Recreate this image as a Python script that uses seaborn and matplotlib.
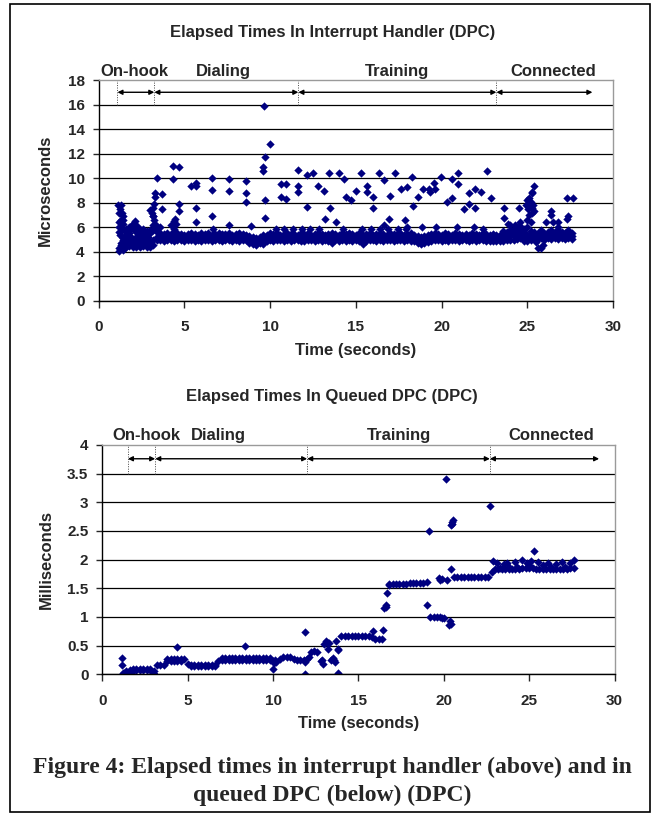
import matplotlib
matplotlib.use('Agg')
import matplotlib.pyplot as plt
from matplotlib.patches import Rectangle
from matplotlib.ticker import FuncFormatter
import pandas as pd
import seaborn as sns

# sample times (seconds), shared by both traces
t = [1.2, 1.4, 1.6, 1.8, 2.0, 2.2, 2.4, 2.6, 2.8, 3.0,
     3.2, 3.4, 3.6, 3.8, 4.0, 4.2, 4.4, 4.6, 4.8, 5.0,
     5.2, 5.4, 5.6, 5.8, 6.0, 6.2, 6.4, 6.6, 6.8, 7.0,
     7.2, 7.4, 7.6, 7.8, 8.0, 8.2, 8.4, 8.6, 8.8, 9.0,
     9.2, 9.4, 9.6, 9.8, 10.0, 10.2, 10.4, 10.6, 10.8, 11.0,
     11.2, 11.4, 11.6, 11.8, 12.0, 12.2, 12.4, 12.6, 12.8, 13.0,
     13.2, 13.4, 13.6, 13.8, 14.0, 14.2, 14.4, 14.6, 14.8, 15.0,
     15.2, 15.4, 15.6, 15.8, 16.0, 16.2, 16.4, 16.6, 16.8, 17.0,
     17.2, 17.4, 17.6, 17.8, 18.0, 18.2, 18.4, 18.6, 18.8, 19.0,
     19.2, 19.4, 19.6, 19.8, 20.0, 20.2, 20.4, 20.6, 20.8, 21.0,
     21.2, 21.4, 21.6, 21.8, 22.0, 22.2, 22.4, 22.6, 22.8, 23.0,
     23.2, 23.4, 23.6, 23.8, 24.0, 24.2, 24.4, 24.6, 24.8, 25.0,
     25.2, 25.4, 25.6, 25.8, 26.0, 26.2, 26.4, 26.6, 26.8, 27.0,
     27.2, 27.4, 27.6]

# interrupt handler (microseconds): the dense band, read as four rows
mu_lo = [4.3, 4.2, 4.4, 4.5, 4.4, 4.4, 4.4, 4.5, 4.4, 4.4,
         4.6, 5.0, 4.95, 4.9, 5.0, 4.95, 4.9, 5.0, 4.95, 4.9,
         5.0, 4.95, 4.9, 5.0, 4.85, 4.95, 5.0, 4.9, 4.95, 5.0,
         4.9, 4.95, 5.0, 4.9, 4.95, 4.9, 5.0, 4.95, 4.75, 4.65,
         4.6, 4.7, 4.65, 4.9, 5.0, 4.9, 4.95, 5.0, 4.9, 4.95,
         4.9, 5.0, 4.95, 4.9, 4.85, 4.95, 5.0, 4.9, 4.95, 4.9,
         5.0, 4.9, 4.75, 4.95, 4.9, 5.0, 4.9, 4.95, 4.9, 5.0,
         4.85, 4.65, 4.9, 4.95, 5.0, 4.9, 4.95, 4.9, 5.0, 4.95,
         4.9, 4.95, 5.0, 4.9, 4.95, 4.9, 4.85, 4.7, 4.65, 4.75,
         4.8, 4.9, 4.95, 5.0, 4.9, 4.95, 4.9, 5.0, 4.95, 4.9,
         4.95, 5.0, 4.9, 4.95, 4.9, 5.0, 4.95, 4.9, 4.85, 4.9,
         4.85, 4.85, 4.9, 4.95, 5.0, 5.0, 5.05, 5.1, 4.9, 4.85,
         5.0, 5.1, 5.05, 5.1, 5.0, 5.1, 5.05, 5.1, 5.05, 5.1,
         5.05, 5.1, 5.05]
mu_mid = [5.6, 5.0, 4.9, 4.9, 4.8, 4.9, 4.8, 4.8, 4.9, 4.9,
          5.0, 5.25, 5.2, 5.15, 5.2, 5.25, 5.2, 5.2, 5.15, 5.2,
          5.2, 5.15, 5.2, 5.25, 5.2, 5.15, 5.2, 5.2, 5.25, 5.2,
          5.15, 5.2, 5.25, 5.2, 5.15, 5.2, 5.2, 5.15, 5.0, 4.9,
          4.85, 4.9, 5.0, 5.15, 5.2, 5.2, 5.15, 5.25, 5.2, 5.2,
          5.15, 5.2, 5.2, 5.15, 5.2, 5.25, 5.2, 5.15, 5.2, 5.2,
          5.25, 5.2, 5.15, 5.2, 5.2, 5.25, 5.15, 5.2, 5.2, 5.15,
          5.2, 5.0, 5.2, 5.2, 5.15, 5.2, 5.25, 5.2, 5.15, 5.2,
          5.2, 5.2, 5.25, 5.15, 5.2, 5.2, 5.15, 5.0, 4.9, 5.0,
          5.1, 5.2, 5.15, 5.2, 5.25, 5.2, 5.2, 5.15, 5.2, 5.25,
          5.2, 5.2, 5.15, 5.2, 5.2, 5.25, 5.2, 5.15, 5.1, 5.15,
          5.1, 5.15, 5.2, 5.25, 5.3, 5.35, 5.4, 5.45, 5.3, 5.1,
          5.3, 5.35, 5.3, 5.35, 5.3, 5.35, 5.3, 5.35, 5.3, 5.35,
          5.3, 5.35, 5.3]
mu_hi = [6.4, 5.9, 5.4, 5.5, 5.9, 5.6, 5.4, 5.3, 5.5, 5.6,
         5.8, 5.6, 5.5, 5.45, 5.5, 5.45, 5.6, 5.5, 5.45, 5.4,
         5.45, 5.5, 5.45, 5.4, 5.5, 5.45, 5.5, 5.4, 5.45, 5.5,
         5.45, 5.45, 5.5, 5.4, 5.45, 5.5, 5.45, 5.4, 5.3, 5.2,
         5.15, 5.2, 5.35, 5.4, 5.5, 5.45, 5.5, 5.4, 5.45, 5.5,
         5.45, 5.45, 5.4, 5.5, 5.45, 5.5, 5.4, 5.45, 5.5, 5.45,
         5.4, 5.45, 5.5, 5.45, 5.4, 5.5, 5.45, 5.5, 5.45, 5.4,
         5.5, 5.35, 5.45, 5.5, 5.4, 5.45, 5.5, 5.45, 5.4, 5.5,
         5.45, 5.45, 5.5, 5.4, 5.45, 5.5, 5.4, 5.3, 5.2, 5.3,
         5.4, 5.45, 5.5, 5.45, 5.4, 5.5, 5.45, 5.4, 5.5, 5.45,
         5.4, 5.45, 5.4, 5.5, 5.45, 5.4, 5.5, 5.45, 5.4, 5.45,
         5.35, 5.4, 5.45, 5.5, 5.6, 5.7, 5.75, 5.8, 5.6, 5.4,
         5.55, 5.6, 5.55, 5.6, 5.55, 5.6, 5.55, 5.6, 5.55, 5.6,
         5.55, 5.6, 5.5]
mu_top = [7.2, 6.6, 5.9, 6.0, 6.3, 6.1, 5.9, 5.7, 5.6, 5.8,
          6.9, 5.85, 6.0, None, None, 6.2, 5.9, None, None, None,
          None, None, None, None, None, None, None, None, None, None,
          None, None, None, None, None, None, None, None, None, None,
          None, None, None, None, None, None, None, None, None, None,
          None, None, None, None, None, None, None, None, None, None,
          None, None, None, None, None, None, None, None, None, None,
          None, None, None, None, None, None, None, None, None, None,
          None, None, None, None, None, None, None, None, None, None,
          None, None, None, None, None, None, None, None, None, None,
          None, None, None, None, None, None, None, None, None, None,
          None, None, 5.7, 5.65, 5.8, 5.9, 6.0, 6.1, 5.9, 6.0,
          5.7, None, None, 5.75, None, None, 5.8, None, 5.75, None,
          None, 5.8, None]

# interrupt handler: on-hook blob and scattered outliers (time, microseconds)
mu_extra = [
    (1.15, 7.8), (1.25, 7.5), (1.3, 7.8), (1.35, 7.2), (1.4, 6.9), (1.3, 6.6),
    (1.45, 6.3), (1.2, 6.0), (1.35, 5.8), (1.25, 5.4), (1.45, 5.1), (1.3, 4.7),
    (1.2, 4.05), (1.4, 4.15), (1.3, 4.6), (1.5, 4.65), (1.7, 4.6), (1.9, 4.65),
    (2.1, 4.6), (2.3, 4.65), (2.5, 4.6), (2.7, 4.65), (2.9, 4.6), (1.5, 5.2),
    (1.7, 5.15), (1.9, 5.2), (2.1, 5.15), (2.3, 5.2), (2.5, 5.15), (2.7, 5.2),
    (2.9, 5.25), (1.6, 5.6), (1.8, 5.8), (2.0, 6.3), (2.1, 6.5), (2.2, 6.2),
    (2.4, 5.8), (2.6, 5.9), (2.8, 5.7), (3.0, 5.5), (3.0, 7.4), (3.1, 7.2),
    (3.2, 7.6), (3.25, 7.9), (3.3, 8.5), (3.3, 8.8), (3.15, 6.9), (3.25, 6.6),
    (3.2, 6.2), (3.35, 6.2),
    (3.39, 10.05), (3.68, 8.7), (3.68, 7.5), (4.36, 11.0), (4.69, 10.95),
    (4.36, 9.9), (4.69, 7.9), (4.69, 7.3), (4.45, 6.7), (4.4, 6.5), (4.5, 6.3),
    (5.37, 9.37), (5.66, 9.64), (5.66, 9.37), (5.66, 7.6), (5.66, 6.4),
    (6.63, 10.05), (6.63, 9.05), (6.63, 6.95), (6.7, 5.9), (7.58, 9.9),
    (7.62, 8.95), (7.62, 6.2), (8.6, 9.8), (8.6, 8.8), (8.6, 8.05), (8.9, 6.1),
    (9.63, 15.9), (9.97, 12.8), (9.7, 11.76), (9.57, 10.95), (9.6, 10.6),
    (9.68, 8.25), (9.68, 6.8), (10.35, 5.9), (10.84, 5.9), (10.64, 9.5),
    (10.93, 9.53), (10.64, 8.5), (10.93, 8.34), (11.61, 10.68), (11.61, 9.37),
    (11.61, 8.9), (12.17, 10.24), (12.48, 10.46), (12.17, 7.68), (12.81, 9.4),
    (13.14, 9.0), (13.2, 6.7), (13.44, 10.4), (13.5, 7.6), (13.87, 6.4),
    (14.01, 10.4), (14.32, 9.9), (14.4, 8.45), (14.7, 8.2), (15.04, 9.0),
    (15.33, 10.4), (15.68, 9.4), (15.66, 8.85), (16.01, 8.45), (16.01, 7.55),
    (16.34, 10.4), (16.67, 9.87), (16.98, 8.55), (17.31, 10.4), (16.96, 6.7),
    (16.65, 6.2), (17.64, 9.13), (17.97, 9.3), (18.28, 10.13), (18.33, 7.75),
    (17.85, 6.6), (18.65, 8.45), (11.33, 5.9), (11.86, 5.9), (12.34, 5.9),
    (12.85, 5.9), (14.25, 5.9), (15.38, 5.9), (15.87, 5.9), (16.39, 5.9),
    (16.88, 5.9), (17.46, 5.9), (17.95, 5.9), (18.0, 6.0), (18.87, 6.0),
    (18.9, 9.1), (19.25, 9.1), (19.3, 8.9), (19.56, 9.6), (19.62, 9.1),
    (19.7, 6.0), (19.98, 10.1), (20.3, 8.1), (20.6, 9.9), (20.6, 8.4),
    (20.9, 6.0), (20.97, 10.4), (20.97, 9.5), (21.3, 7.5), (21.6, 8.8),
    (21.6, 7.9), (21.9, 6.0), (21.95, 9.1), (21.95, 7.6), (22.28, 8.85),
    (22.4, 5.9), (22.63, 10.6), (22.9, 8.4), (23.67, 7.6), (23.67, 6.8),
    (23.9, 6.3), (24.0, 6.2), (24.3, 6.2), (24.53, 7.6), (24.6, 6.4),
    (24.9, 7.8), (25.0, 8.2), (25.05, 7.5), (25.1, 8.4), (25.15, 7.9),
    (25.2, 8.1), (25.25, 7.2), (25.3, 7.6), (25.3, 8.8), (25.37, 9.4),
    (25.25, 8.9), (25.1, 7.0), (25.0, 6.6), (25.2, 6.4), (25.35, 7.8),
    (25.4, 7.3), (25.5, 4.8), (25.6, 4.35), (25.8, 4.3), (25.9, 4.55),
    (26.1, 6.4), (26.4, 7.3), (26.4, 7.0), (26.5, 6.4), (26.8, 6.4),
    (26.8, 6.0), (27.3, 8.35), (27.3, 6.7), (27.4, 6.9), (27.65, 8.4),
]

# queued DPC (milliseconds): the stepped band, main row and a second row
ms_main = [0.03, 0.05, 0.08, 0.09, 0.1, 0.1, 0.1, 0.1, 0.1, 0.06,
           0.16, 0.16, 0.17, 0.27, 0.27, 0.27, 0.27, 0.27, 0.26, 0.18,
           0.17, 0.17, 0.17, 0.17, 0.17, 0.17, 0.17, 0.17, 0.23, 0.28,
           0.28, 0.28, 0.28, 0.28, 0.28, 0.28, 0.28, 0.28, 0.28, 0.28,
           0.28, 0.28, 0.28, 0.28, 0.24, 0.22, 0.27, 0.31, 0.31, 0.31,
           0.27, 0.25, 0.25, 0.25, 0.27, 0.39, 0.4, 0.39, 0.24, 0.52,
           0.55, 0.25, 0.25, 0.44, 0.66, 0.66, 0.66, 0.66, 0.66, 0.66,
           0.66, 0.66, 0.66, 0.65, 0.61, 0.61, 0.61, 1.18, 1.58, 1.58,
           1.58, 1.58, 1.58, 1.58, 1.59, 1.59, 1.6, 1.6, 1.6, 1.61,
           1.0, 1.0, 1.0, 1.0, 0.98, 1.65, 0.88, 1.69, 1.69, 1.69,
           1.69, 1.69, 1.69, 1.69, 1.69, 1.69, 1.69, 1.69, 1.78, 1.83,
           1.83, 1.84, 1.83, 1.84, 1.83, 1.84, 1.83, 1.85, 1.85, 1.86,
           1.85, 1.84, 1.83, 1.84, 1.83, 1.84, 1.83, 1.84, 1.83, 1.84,
           1.83, 1.85, 1.86]
ms_alt = [0.0, 0.02, 0.03, 0.05, 0.07, 0.07, 0.07, 0.07, 0.07, 0.01,
          None, None, None, 0.24, 0.24, 0.24, 0.24, 0.24, None, None,
          0.14, 0.14, 0.14, 0.14, 0.14, 0.14, 0.14, 0.14, None, 0.25,
          0.25, 0.25, 0.25, 0.25, 0.25, 0.25, 0.25, 0.25, 0.25, 0.25,
          0.25, 0.25, 0.25, 0.25, None, None, None, None, None, None,
          None, None, None, None, None, None, None, None, None, None,
          None, None, None, None, None, None, None, None, None, None,
          None, None, None, None, None, None, None, None, None, None,
          None, None, None, None, None, None, None, None, None, None,
          None, None, None, None, None, None, None, None, None, None,
          None, None, None, None, None, None, None, None, None, None,
          None, None, None, None, None, None, None, None, None, None,
          None, None, None, None, None, None, None, None, None, None,
          None, None, None]

# queued DPC: isolated points and small clusters (time, milliseconds)
ms_extra = [
    (1.13, 0.28), (1.17, 0.16), (1.3, 0.02), (1.5, 0.03), (1.7, 0.04),
    (2.95, 0.02), (3.0, 0.0), (4.35, 0.48), (8.35, 0.5), (10.0, 0.1),
    (10.05, 0.2), (10.1, 0.25), (11.85, 0.73), (11.85, 0.01), (11.9, 0.22),
    (12.1, 0.3), (12.9, 0.18), (12.85, 0.25), (13.1, 0.58), (13.2, 0.45),
    (13.3, 0.55), (13.5, 0.28), (13.7, 0.58), (13.8, 0.43), (13.8, 0.02),
    (13.65, 0.22), (15.85, 0.76), (16.43, 0.77), (16.5, 1.15), (16.6, 1.21),
    (16.66, 1.42), (16.8, 1.55), (19.04, 1.21), (19.14, 2.5), (20.16, 3.41),
    (20.45, 2.6), (20.5, 2.65), (20.55, 2.7), (20.5, 2.62), (19.7, 1.68),
    (19.8, 1.64), (19.9, 1.66), (20.4, 1.83), (20.3, 0.86), (20.35, 0.93),
    (19.9, 0.99), (22.7, 2.94), (22.9, 1.97), (23.1, 1.95), (23.5, 1.92),
    (23.7, 1.95), (24.2, 1.96), (24.6, 1.99), (24.9, 1.95), (25.1, 1.98),
    (25.3, 2.15), (25.0, 1.9), (25.5, 1.96), (26.1, 1.95), (26.6, 1.93),
    (26.9, 1.96), (27.4, 1.95), (27.6, 1.99), (25.8, 1.9), (24.3, 1.88),
    (23.8, 1.88), (23.3, 1.86), (26.3, 1.87), (27.1, 1.88),
]

phase_names = ['On-hook', 'Dialing', 'Training', 'Connected']
top_bounds = [1.1, 3.25, 11.65, 23.2, 28.8]
top_label_x = [2.07, 7.27, 17.4, 26.5]
bottom_bounds = [1.5, 3.1, 12.0, 22.7, 29.1]
bottom_label_x = [2.6, 6.8, 17.37, 26.3]

navy = '#000080'

sns.set_style('white')
plt.rcParams['font.family'] = ['Liberation Sans', 'DejaVu Sans']
plt.rcParams['font.weight'] = 'bold'


def frame_from(rows, extra, name):
    parts = [pd.DataFrame({'time': t, name: r}) for r in rows]
    parts.append(pd.DataFrame(extra, columns=['time', name]))
    return pd.concat(parts, ignore_index=True).astype(float).dropna()


top_df = frame_from([mu_lo, mu_mid, mu_hi, mu_top], mu_extra, 'us')
bot_df = frame_from([ms_main, ms_alt], ms_extra, 'ms')


def style_axes(ax, yticks):
    ax.set_xlim(0, 30)
    ax.set_ylim(0, yticks[-1])
    ax.set_xticks(range(0, 31, 5))
    ax.set_yticks(yticks)
    ax.yaxis.set_major_formatter(FuncFormatter(lambda v, p: '%g' % v))
    ax.yaxis.grid(True, color='black', lw=0.9)
    ax.xaxis.grid(False)
    ax.get_ygridlines()[-1].set_visible(False)
    ax.set_axisbelow(True)
    for s in ['left', 'bottom']:
        ax.spines[s].set_color('black')
        ax.spines[s].set_linewidth(1.0)
    for s in ['top', 'right']:
        ax.spines[s].set_color('#9a9a9a')
        ax.spines[s].set_linewidth(1.0)
    ax.tick_params(axis='x', direction='out', length=5, width=1, pad=9,
                   labelsize=11, bottom=True)
    ax.tick_params(axis='y', direction='out', length=4, width=1, pad=6,
                   labelsize=11, left=True)


def draw_phases(ax, bounds, arrow_y, line_lo, line_hi, label_x, label_y):
    for a, b in zip(bounds[:-1], bounds[1:]):
        ax.annotate('', xy=(b, arrow_y), xytext=(a, arrow_y),
                    arrowprops=dict(arrowstyle='<|-|>', color='black', lw=1,
                                    mutation_scale=7, shrinkA=0, shrinkB=0))
    for b in bounds[:-1]:
        ax.plot([b, b], [line_lo, line_hi], color='#444444', lw=0.7,
                ls=(0, (1, 1.5)))
    for name, x in zip(phase_names, label_x):
        ax.text(x, label_y, name, ha='center', va='center', fontsize=12,
                fontweight='bold', clip_on=False)


fig = plt.figure(figsize=(6.53, 8.16), dpi=100)
ax1 = fig.add_axes([98.6 / 653, 1 - 301 / 816, 514.4 / 653, 221 / 816])
ax2 = fig.add_axes([102.3 / 653, 1 - 674.3 / 816, 512.2 / 653, 229.3 / 816])

sns.scatterplot(data=top_df, x='time', y='us', marker='D', s=18, color=navy,
                linewidth=0, ax=ax1, legend=False)
style_axes(ax1, list(range(0, 19, 2)))
draw_phases(ax1, top_bounds, 17.0, 16.0, 18.0, top_label_x, 18.73)
ax1.set_xlabel('Time (seconds)', fontsize=12, fontweight='bold')
ax1.set_ylabel('Microseconds', fontsize=12, fontweight='bold')
ax1.xaxis.set_label_coords(0.5, -0.19)
ax1.yaxis.set_label_coords(-0.088, 0.5)

sns.scatterplot(data=bot_df, x='time', y='ms', marker='D', s=18, color=navy,
                linewidth=0, ax=ax2, legend=False)
style_axes(ax2, [0, 0.5, 1, 1.5, 2, 2.5, 3, 3.5, 4])
draw_phases(ax2, bottom_bounds, 3.76, 3.5, 4.0, bottom_label_x, 4.17)
ax2.set_xlabel('Time (seconds)', fontsize=12, fontweight='bold')
ax2.set_ylabel('Milliseconds', fontsize=12, fontweight='bold')
ax2.xaxis.set_label_coords(0.5, -0.18)
ax2.yaxis.set_label_coords(-0.095, 0.5)

fig.text(333 / 653, 1 - 32 / 816, 'Elapsed Times In Interrupt Handler (DPC)',
         ha='center', va='center', fontsize=12, fontweight='bold')
fig.text(332 / 653, 1 - 396 / 816, 'Elapsed Times In Queued DPC (DPC)',
         ha='center', va='center', fontsize=12, fontweight='bold')

cap_font = ['Liberation Serif', 'DejaVu Serif']
fig.text(332 / 653, 1 - 767 / 816,
         'Figure 4: Elapsed times in interrupt handler (above) and in',
         ha='center', va='center', fontsize=17, fontweight='bold',
         family=cap_font)
fig.text(332 / 653, 1 - 795 / 816, 'queued DPC (below) (DPC)',
         ha='center', va='center', fontsize=17, fontweight='bold',
         family=cap_font)

fig.add_artist(Rectangle((10 / 653, 4 / 816), 640 / 653, 808 / 816,
                         transform=fig.transFigure, fill=False,
                         ec='black', lw=1.2))

fig.savefig('out.png', dpi=100)
